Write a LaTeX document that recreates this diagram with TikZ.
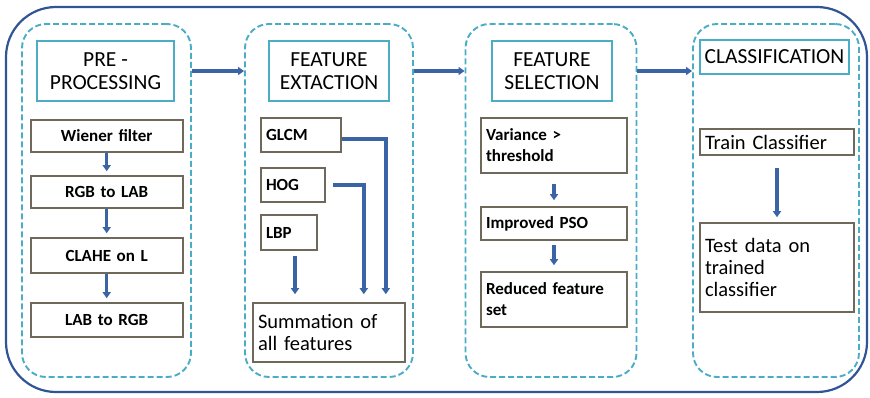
\documentclass[tikz,border=0pt]{standalone}
\usepackage{fontspec}
\setmainfont{Carlito}
\usetikzlibrary{arrows.meta,positioning}
\definecolor{framenavy}{HTML}{2F5597}
\definecolor{dashcyan}{HTML}{4BACC6}
\definecolor{boxgrey}{HTML}{6E695A}
\definecolor{arrowblue}{HTML}{3B64A6}

\begin{document}
\begin{tikzpicture}[
  x=1pt, y=-1pt,
  >={Triangle[length=6pt,width=8pt]},
  framebox/.style={
    draw=framenavy,
    line width=2.2pt,
    rounded corners=50pt,
    minimum width=861pt,
    minimum height=385pt
  },
  stagebox/.style={
    draw=dashcyan,
    line width=1.9pt,
    dash pattern=on 6pt off 3pt,
    rounded corners=24pt,
    minimum height=353pt
  },
  titlebox/.style={
    draw=dashcyan,
    line width=2.2pt,
    inner sep=0pt,
    align=center,
    font=\fontsize{21.5}{23}\selectfont
  },
  stepbox/.style={
    draw=boxgrey,
    line width=1.6pt,
    inner xsep=5pt,
    inner ysep=0pt,
    align=left,
    font=\fontsize{17}{21}\selectfont\bfseries
  },
  plainbox/.style={
    stepbox,
    font=\fontsize{20.5}{22}\selectfont
  },
  flow/.style={->, draw=arrowblue, line width=4pt},
  smallflow/.style={->, draw=arrowblue, line width=3.5pt, shorten >=4pt}
]
  \useasboundingbox (0,0) rectangle (870,398);

  % Outer frame
  \node[framebox] (frame) at (436.5,199.5) {};

  % Dashed stage columns
  \node[stagebox, minimum width=169pt] (c1) at (106.5,200.5) {};
  \node[stagebox, minimum width=168pt] (c2) at (329,200.5) {};
  \node[stagebox, minimum width=171pt] (c3) at (551,200.5) {};
  \node[stagebox, minimum width=166pt] (c4) at (776,200.5) {};

  % Stage titles
  \node[titlebox, minimum width=137pt, minimum height=60pt] (t1) at (105.5,71) {PRE -\\PROCESSING};
  \node[titlebox, minimum width=120pt, minimum height=60pt] (t2) at (329,71) {FEATURE\\EXTACTION};
  \node[titlebox, minimum width=120pt, minimum height=60pt] (t3) at (552,71) {FEATURE\\SELECTION};
  \node[titlebox, minimum width=149pt, minimum height=34pt] (t4) at (774.5,57) {CLASSIFICATION};

  % Pre-processing steps
  \node[stepbox, align=center, text width=142pt, minimum height=32pt] (wiener) at (106.7,136) {Wiener filter};
  \node[stepbox, align=center, text width=142pt, minimum height=32pt] (rgblab) at (106.7,192) {RGB to LAB};
  \node[stepbox, align=center, text width=142pt, minimum height=35pt] (clahe) at (106.7,255.5) {CLAHE on L};
  \node[stepbox, align=center, text width=142pt, minimum height=34pt] (labrgb) at (106.7,320) {LAB to RGB};

  % Feature extraction
  \node[stepbox, text width=70pt, minimum height=34pt] (glcm) at (301,135) {GLCM};
  \node[stepbox, text width=54pt, minimum height=34pt] (hog) at (293,185) {HOG};
  \node[stepbox, text width=46pt, minimum height=35pt] (lbp) at (289,232.5) {LBP};
  \node[plainbox, text width=142pt, minimum height=59pt] (sum) at (329,332.5) {Summation of\\all features};

  % Feature selection
  \node[stepbox, text width=136pt, minimum height=55pt] (variance) at (554,145.5) {Variance >\\threshold};
  \node[stepbox, text width=136pt, minimum height=33pt] (pso) at (554,223.5) {Improved PSO};
  \node[stepbox, text width=136pt, minimum height=55pt] (reduced) at (554,299.5) {Reduced feature\\set};

  % Classification
  \node[plainbox, text width=144pt, minimum height=26pt] (train) at (777,142) {Train Classifier};
  \node[plainbox, text width=144pt, minimum height=89pt] (test) at (777,267.5) {Test data on\\trained\\classifier};

  % Arrows between stages
  \draw[flow] (t1.east -| c1.east) -- (t1.east -| c2.west);
  \draw[flow] (t2.east -| c2.east) -- (t2.east -| c3.west);
  \draw[flow] (t3.east -| c3.east) -- (t3.east -| c4.west);

  % Arrows inside stages
  \draw[smallflow] (wiener) -- (rgblab);
  \draw[smallflow] (rgblab) -- (clahe);
  \draw[smallflow] (clahe) -- (labrgb);
  \draw[smallflow, shorten <=10pt, shorten >=6pt] (variance) -- (pso);
  \draw[smallflow, shorten <=4pt, shorten >=6pt] (pso) -- (reduced);
  \draw[flow, shorten <=12pt, shorten >=5pt] (train) -- (test);

  \draw[flow, shorten >=8pt] ([yshift=-4pt]glcm.east) -| ([xshift=-20pt]sum.north east);
  \draw[flow, shorten <=7pt, shorten >=8pt] (hog.east) -| ([xshift=-42pt]sum.north east);
  \draw[flow, shorten <=5pt, shorten >=8pt] ([xshift=6pt]lbp.south) -- ([xshift=6pt]lbp.south |- sum.north);

\end{tikzpicture}
\end{document}
